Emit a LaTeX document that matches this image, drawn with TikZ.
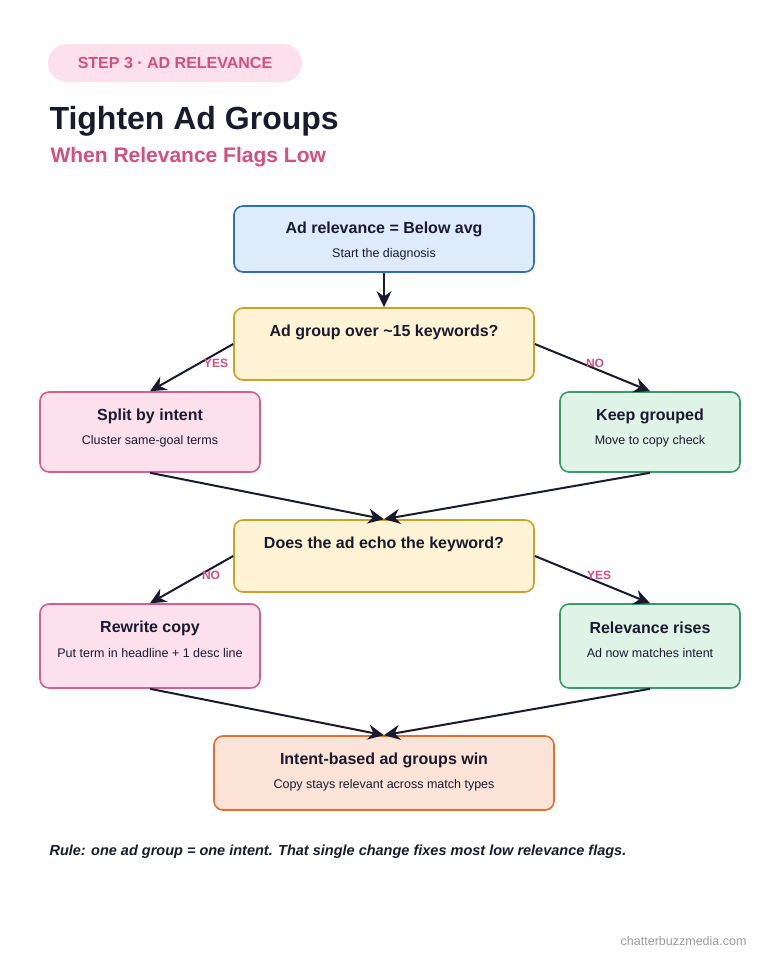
\documentclass[tikz,border=0pt]{standalone}
\usepackage{fontspec}
\setmainfont{Liberation Sans}
\usetikzlibrary{arrows.meta,positioning}
\definecolor{ink}{HTML}{1A1A2E}
\definecolor{rose}{HTML}{D0507F}
\definecolor{bluefill}{HTML}{DDEBFA}\definecolor{blueline}{HTML}{2F6FB5}
\definecolor{yelfill}{HTML}{FFF3D6}\definecolor{yelline}{HTML}{C9A227}
\definecolor{pinkfill}{HTML}{FCE0EC}\definecolor{pinkline}{HTML}{D06090}
\definecolor{grnfill}{HTML}{DFF3E6}\definecolor{grnline}{HTML}{3A9A6A}
\definecolor{orgfill}{HTML}{FCE3D8}\definecolor{orgline}{HTML}{E07030}
\tikzset{
  box/.style={draw, line width=1.6pt, rounded corners=9pt, inner sep=0pt},
  bluebox/.style={box, fill=bluefill, draw=blueline},
  yelbox/.style={box, fill=yelfill, draw=yelline},
  pinkbox/.style={box, fill=pinkfill, draw=pinkline},
  grnbox/.style={box, fill=grnfill, draw=grnline},
  orgbox/.style={box, fill=orgfill, draw=orgline},
  boxtitle/.style={text=ink, font=\fontsize{16}{18}\selectfont\bfseries},
  boxsub/.style={text=ink, font=\fontsize{12.5}{14}\selectfont},
  flow/.style={draw=ink, line width=2pt, -{Stealth[length=16pt,width=15pt]}},
  answer/.style={text=rose, font=\fontsize{12}{14}\selectfont\bfseries}
}
\begin{document}
\begin{tikzpicture}[x=1pt,y=-1pt]
\useasboundingbox[fill=white] (0,0) rectangle (768,960);
% header
\node[fill=pinkfill, rounded corners=19pt, minimum width=254pt, minimum height=38pt,
  text=rose, font=\fontsize{16}{18}\selectfont\bfseries] (pill) at (175,63) {STEP 3 ·\ AD RELEVANCE};
\node[anchor=west, text=ink, font=\fontsize{32}{36}\selectfont\bfseries] (title) at (46,121) {Tighten Ad Groups};
\node[anchor=west, text=rose, font=\fontsize{21}{24}\selectfont\bfseries] (subtitle) at (47,157) {When Relevance Flags Low};
% boxes
\node[bluebox, minimum width=300pt, minimum height=66pt] (start) at (384,239) {};
\node[yelbox, minimum width=300pt, minimum height=72pt] (size) at (384,344) {};
\node[pinkbox, minimum width=220pt, minimum height=80pt] (split) at (150,432) {};
\node[grnbox, minimum width=180pt, minimum height=80pt] (keep) at (650,432) {};
\node[yelbox, minimum width=300pt, minimum height=72pt] (echo) at (384,556) {};
\node[pinkbox, minimum width=220pt, minimum height=84pt] (rewrite) at (150,646) {};
\node[grnbox, minimum width=180pt, minimum height=84pt] (rises) at (650,646) {};
\node[orgbox, minimum width=340pt, minimum height=74pt] (win) at (384,773) {};
% box texts
\node[boxtitle] at ([yshift=-24pt]start.north) {Ad relevance = Below avg};
\node[boxsub] at ([yshift=-49pt]start.north) {Start the diagnosis};
\node[boxtitle] at ([yshift=-25pt]size.north) {Ad group over \textasciitilde 15 keywords?};
\node[boxtitle] at ([yshift=-25pt]split.north) {Split by intent};
\node[boxsub] at ([yshift=-50pt]split.north) {Cluster same-goal terms};
\node[boxtitle] at ([yshift=-25pt]keep.north) {Keep grouped};
\node[boxsub] at ([yshift=-50pt]keep.north) {Move to copy check};
\node[boxtitle] at ([yshift=-25pt]echo.north) {Does the ad echo the keyword?};
\node[boxtitle] at ([yshift=-25pt]rewrite.north) {Rewrite copy};
\node[boxsub] at ([yshift=-50pt]rewrite.north) {Put term in headline + 1 desc line};
\node[boxtitle] at ([yshift=-25pt]rises.north) {Relevance rises};
\node[boxsub] at ([yshift=-50pt]rises.north) {Ad now matches intent};
\node[boxtitle] at ([yshift=-25pt]win.north) {Intent-based ad groups win};
\node[boxsub] at ([yshift=-50pt]win.north) {Copy stays relevant across match types};
% connectors
\draw[flow] (start.south) -- (size.north);
\draw[flow] (size.west) -- (split.north);
\draw[flow] (size.east) -- (keep.north);
\draw[flow] (split.south) -- (echo.north);
\draw[flow] (keep.south) -- (echo.north);
\draw[flow] (echo.west) -- (rewrite.north);
\draw[flow] (echo.east) -- (rises.north);
\draw[flow] (rewrite.south) -- (win.north);
\draw[flow] (rises.south) -- (win.north);
% answers
\node[answer] at (216,363) {YES};
\node[answer] at (595,363) {NO};
\node[answer] at (211,575) {NO};
\node[answer] at (599,575) {YES};
% footer
\node[anchor=west, text=ink, font=\fontsize{14.5}{16}\selectfont\bfseries\itshape] (rule) at (46,852)
  {Rule: one ad group = one intent. That single change fixes most low relevance flags.};
\node[anchor=east, text=gray!80, font=\fontsize{12.5}{14}\selectfont] (site) at (750,941) {chatterbuzzmedia.com};
\end{tikzpicture}
\end{document}
